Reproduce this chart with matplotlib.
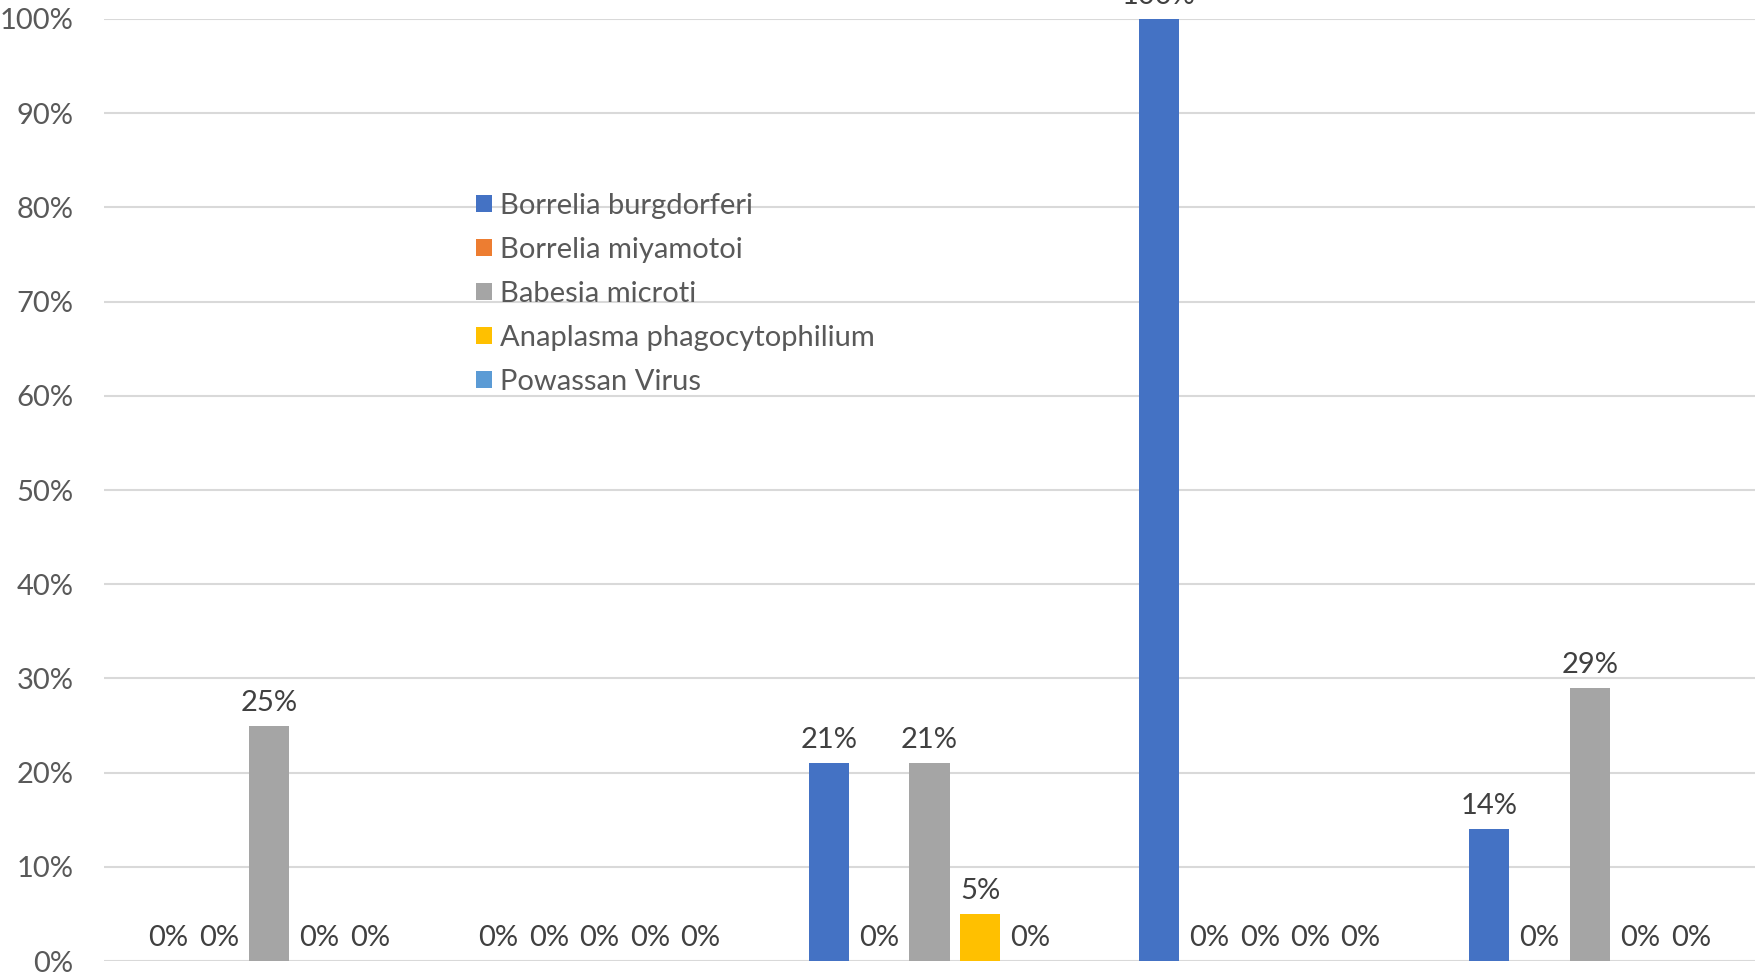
import numpy as np
import matplotlib
matplotlib.use("Agg")
import matplotlib.pyplot as plt

plt.rcParams['font.family'] = ['Lato', 'DejaVu Sans']

# data (percent of ticks positive)
groups = ['1', '2', '3', '4', '5']
series = ['Borrelia burgdorferi', 'Borrelia miyamotoi', 'Babesia microti',
          'Anaplasma phagocytophilium', 'Powassan Virus']
burgdorferi = [0, 0, 21, 100, 14]
miyamotoi = [0, 0, 0, 0, 0]
microti = [25, 0, 21, 0, 29]
anaplasma = [0, 0, 5, 0, 0]
powassan = [0, 0, 0, 0, 0]
colors = ['#4472C4', '#ED7D31', '#A5A5A5', '#FFC000', '#5B9BD5']
yticks = [0, 10, 20, 30, 40, 50, 60, 70, 80, 90, 100]

values = [burgdorferi, miyamotoi, microti, anaplasma, powassan]

fig = plt.figure(figsize=(17.55, 9.74), dpi=100)
ax = fig.add_axes([0.0593, 0.0133, 0.9407, 0.9672])

x = np.arange(len(groups))
slot = 0.1527
width = 0.122
for i, (name, vals, c) in enumerate(zip(series, values, colors)):
    pos = x + (i - 2) * slot
    bars = ax.bar(pos, vals, width=width, color=c, label=name, zorder=2)
    for b, v in zip(bars, vals):
        ax.annotate(f'{v}%', (b.get_x() + b.get_width() / 2, v),
                    xytext=(0, 7), textcoords='offset points',
                    ha='center', va='bottom', fontsize=21, color='#404040',
                    annotation_clip=False)

ax.set_xlim(-0.5, len(groups) - 0.5)
ax.set_ylim(0, 100)
ax.set_yticks(yticks)
ax.set_yticklabels([f'{t}%' for t in yticks], fontsize=21, color='#595959')
ax.set_xticks([])
ax.tick_params(axis='y', length=0, pad=22)
ax.grid(axis='y', color='#D9D9D9', linewidth=1.5, zorder=0)
for s in ax.spines.values():
    s.set_visible(False)

leg = ax.legend(loc='upper left', bbox_to_anchor=(0.218, 0.828), frameon=False,
                fontsize=21, handlelength=0.55, handleheight=0.55,
                handletextpad=0.3, labelspacing=0.62, borderaxespad=0)
for t in leg.get_texts():
    t.set_color('#595959')

fig.savefig('out.png', dpi=100)
